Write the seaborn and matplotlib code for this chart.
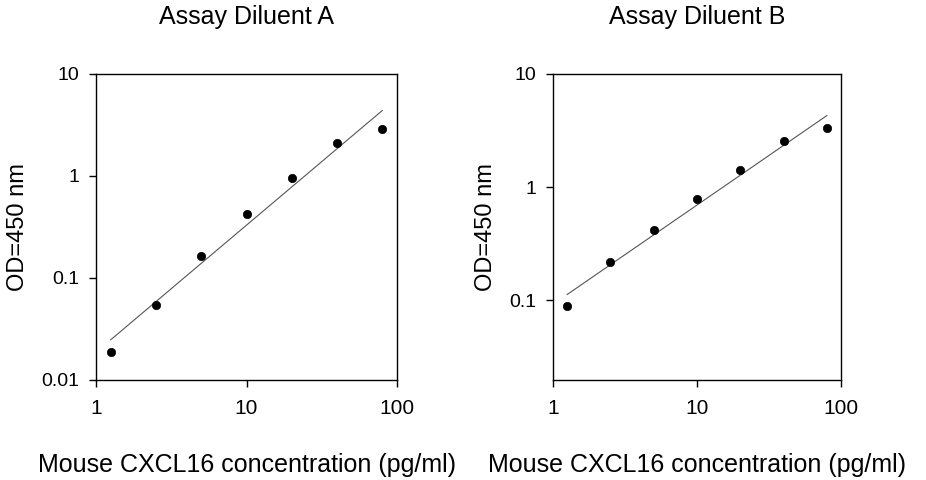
import numpy as np
import pandas as pd
import matplotlib
matplotlib.use("Agg")
import matplotlib.pyplot as plt
import seaborn as sns
from matplotlib.ticker import FixedLocator, FixedFormatter, NullLocator

sns.set_theme(style="white")
plt.rcParams['font.family'] = ['Liberation Sans', 'DejaVu Sans']

# Data
concentration = [1.25, 2.5, 5, 10, 20, 40, 80]
od_diluent_a = [0.019, 0.0547, 0.163, 0.423, 0.963, 2.10, 2.92]
od_diluent_b = [0.0894, 0.215, 0.416, 0.788, 1.415, 2.57, 3.33]
titles = ["Assay Diluent A", "Assay Diluent B"]
x_label = "Mouse CXCL16 concentration (pg/ml)"
y_label = "OD=450 nm"
x_ticks = [1, 10, 100]
x_ticklabels = ["1", "10", "100"]
y_ticks_a = [0.01, 0.1, 1, 10]
y_ticklabels_a = ["0.01", "0.1", "1", "10"]
y_ticks_b = [0.1, 1, 10]
y_ticklabels_b = ["0.1", "1", "10"]

fig = plt.figure(figsize=(9.26, 4.8), dpi=100)
ax_a = fig.add_axes([96/926, 100/480, 301/926, 306/480])
ax_b = fig.add_axes([553/926, 100/480, 288/926, 306/480])

panels = [
    (ax_a, od_diluent_a, titles[0], y_ticks_a, y_ticklabels_a, (0.01, 10)),
    (ax_b, od_diluent_b, titles[1], y_ticks_b, y_ticklabels_b, (0.0196, 10)),
]

for ax, od, title, yt, ytl, ylim in panels:
    df = pd.DataFrame({"conc": concentration, "od": od})
    # log-log linear regression fit line
    slope, intercept = np.polyfit(np.log10(df["conc"]), np.log10(df["od"]), 1)
    fit = pd.DataFrame({"conc": [concentration[0], concentration[-1]]})
    fit["od"] = 10 ** (intercept + slope * np.log10(fit["conc"]))
    sns.lineplot(data=fit, x="conc", y="od", ax=ax, color="#555555", linewidth=0.8)
    sns.scatterplot(data=df, x="conc", y="od", ax=ax, color="black", s=36,
                    edgecolor="black", linewidth=0.5, zorder=3)
    ax.set_xscale("log")
    ax.set_yscale("log")
    ax.set_xlim(1, 100)
    ax.set_ylim(*ylim)
    ax.xaxis.set_major_locator(FixedLocator(x_ticks))
    ax.xaxis.set_major_formatter(FixedFormatter(x_ticklabels))
    ax.yaxis.set_major_locator(FixedLocator(yt))
    ax.yaxis.set_major_formatter(FixedFormatter(ytl))
    ax.xaxis.set_minor_locator(NullLocator())
    ax.yaxis.set_minor_locator(NullLocator())
    ax.tick_params(axis="both", which="major", direction="out", length=5, width=1,
                   color="black", labelcolor="black", bottom=True, left=True)
    ax.tick_params(axis="x", labelsize=15, pad=9)
    ax.tick_params(axis="y", labelsize=14, pad=7)
    for sp in ax.spines.values():
        sp.set_visible(True)
        sp.set_color("black")
        sp.set_linewidth(1)
    ax.set_title(title, fontsize=18, pad=36, color="black")
    ax.set_xlabel(x_label, fontsize=18, labelpad=25, color="black")
    ax.set_ylabel(y_label, fontsize=17, labelpad=9, color="black")
    ax.grid(False)

fig.savefig("out.png", dpi=100, facecolor="white")
